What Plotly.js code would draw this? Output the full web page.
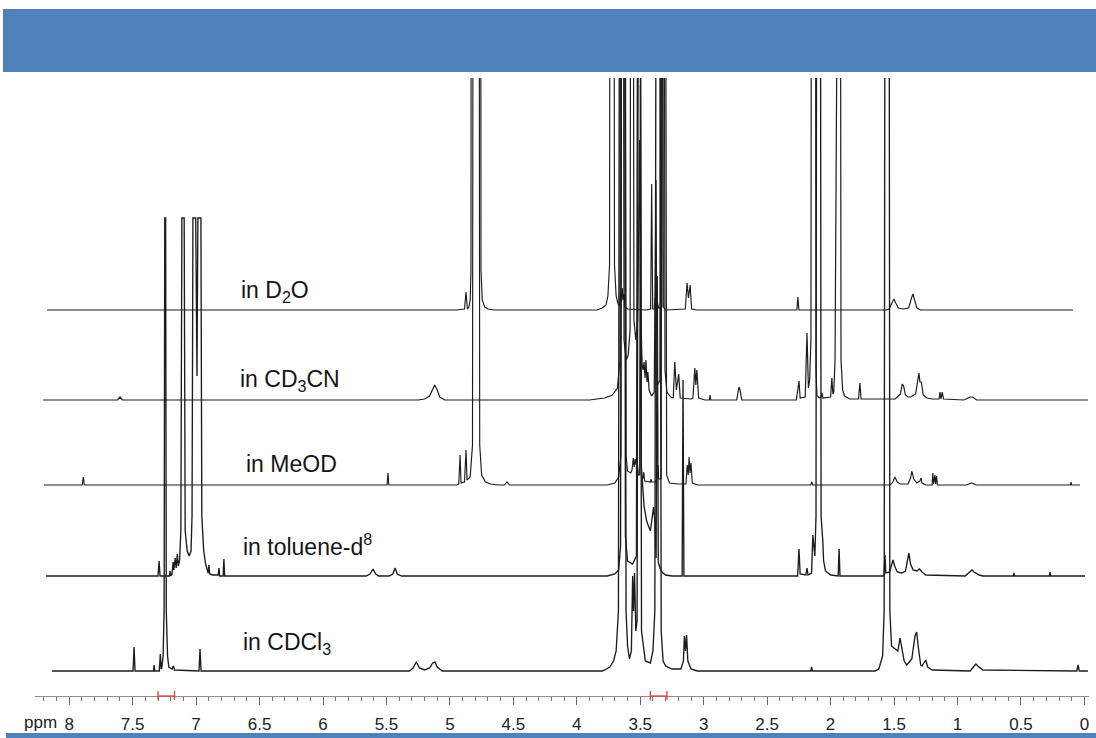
<!DOCTYPE html>
<html>
<head>
<meta charset="utf-8">
<script src="https://cdn.plot.ly/plotly-3.0.1.min.js"></script>
<style>html,body{margin:0;padding:0;background:#fff;}#chart{width:1096px;height:738px;}</style>
</head>
<body>
<div id="chart"></div>
<script>
// ---- axis ticks ----
const ppmTicks = [8,7.5,7,6.5,6,5.5,5,4.5,4,3.5,3,2.5,2,1.5,1,0.5,0];
const tickLabels = ['8','7.5','7','6.5','6','5.5','5','4.5','4','3.5','3','2.5','2','1.5','1','0.5','0'];

// ---- solvents (top to bottom) ----
const solventLabels = ['in D<sub>2</sub>O','in CD<sub>3</sub>CN','in MeOD','in toluene-d<sup>8</sup>','in CDCl<sub>3</sub>'];

// ---- spectra: [ppm, intensity above own baseline] (tall peaks run off scale) ----
const d2oSpectrum = [
[8.175,0],[4.95,0],[4.885,1],[4.873,18],[4.862,1],[4.85,3],[4.84,10],[4.834,40],[4.830,900],[4.760,900],[4.755,40],[4.745,10],[4.725,3],[4.70,1],[4.65,0],
[3.84,0],[3.80,2],[3.77,5],[3.755,14],[3.742,45],[3.734,900],[3.711,900],[3.703,45],[3.69,14],[3.675,6],[3.662,4],[3.655,18],[3.648,8],[3.642,22],[3.635,10],[3.628,16],[3.62,3],[3.60,1],[3.45,0],
[3.418,1],[3.410,126],[3.402,1],[3.39,1],[3.383,12],[3.376,3],[3.37,10],[3.355,2],[3.33,3],[3.324,900],[3.318,3],[3.30,0],
[3.145,1],[3.131,27],[3.12,12],[3.107,25],[3.095,1],[3.05,0],
[2.266,0],[2.258,13],[2.250,0],
[1.56,0],[1.54,1],[1.515,7],[1.501,11],[1.487,7],[1.465,2],[1.43,1],[1.385,2],[1.365,11],[1.351,16],[1.338,10],[1.32,2],[1.29,0],[0.09,0]
];
const cd3cnSpectrum = [
[8.206,0],[7.62,0],[7.60,3],[7.58,0],[5.25,0],[5.20,1],[5.16,4],[5.14,10],[5.12,15],[5.10,10],[5.08,3],[5.04,0],
[3.90,0],[3.78,2],[3.72,5],[3.68,12],[3.66,40],[3.652,900],[3.636,900],[3.628,60],[3.61,40],[3.595,45],[3.58,70],[3.572,900],[3.558,900],[3.55,80],[3.535,60],[3.52,80],[3.505,260],[3.497,90],[3.485,35],[3.478,30],[3.470,38],[3.462,22],[3.455,40],[3.447,18],[3.44,28],[3.43,10],[3.41,4],[3.39,8],[3.376,220],[3.368,14],[3.345,20],[3.335,900],[3.315,900],[3.305,30],[3.29,8],[3.26,3],
[3.24,2],[3.228,38],[3.215,10],[3.197,26],[3.185,2],[3.10,1],[3.085,2],[3.07,32],[3.062,15],[3.054,30],[3.04,2],[2.99,0],[2.956,0],[2.95,5],[2.944,0],[2.74,0],[2.728,10],[2.722,13],[2.714,10],[2.70,0],
[2.27,0],[2.249,19],[2.24,2],[2.20,3],[2.186,67],[2.175,12],[2.165,20],[2.155,60],[2.148,900],[2.122,900],[2.115,30],[2.108,5],[2.09,2],[2.075,3],[2.068,7],[2.06,2],[2.0,3],[1.99,22],[1.982,6],[1.975,8],[1.965,40],[1.958,900],[1.926,900],[1.918,40],[1.905,10],[1.89,4],[1.85,1],[1.78,1],[1.769,17],[1.76,1],
[1.49,1],[1.45,6],[1.435,16],[1.425,14],[1.41,5],[1.39,3],[1.37,3],[1.33,6],[1.312,24],[1.304,27],[1.296,18],[1.285,18],[1.27,5],[1.24,2],[1.20,1],[1.145,1],[1.138,8],[1.13,1],[1.12,8],[1.11,1],[0.95,0],[0.90,3],[0.88,3],[0.85,0],[-0.028,0]
];
const meodSpectrum = [
[8.199,0],[7.897,0],[7.889,8],[7.881,0],[5.495,0],[5.488,12],[5.481,0],[4.95,0],[4.93,1],[4.92,30],[4.912,2],[4.885,3],[4.873,35],[4.865,5],[4.84,8],[4.822,40],[4.815,900],[4.772,900],[4.765,40],[4.75,10],[4.72,3],[4.68,1],[4.62,0],[4.57,0],[4.55,3],[4.53,0],
[3.76,0],[3.70,2],[3.67,8],[3.652,30],[3.645,900],[3.62,900],[3.612,30],[3.60,14],[3.575,12],[3.565,15],[3.555,27],[3.548,18],[3.54,26],[3.532,20],[3.525,25],[3.515,10],[3.505,10],[3.499,400],[3.492,10],[3.480,6],[3.473,13],[3.465,4],[3.42,3],[3.415,6],[3.41,3],[3.38,3],[3.365,8],[3.36,20],[3.355,6],[3.335,6],[3.326,900],[3.304,900],[3.292,10],[3.27,2],[3.2,1],
[3.14,1],[3.13,20],[3.122,10],[3.115,28],[3.108,12],[3.10,22],[3.09,2],[3.05,0],[2.156,0],[2.148,3],[2.14,0],[1.53,0],[1.51,3],[1.493,8],[1.475,3],[1.45,1],[1.39,1],[1.37,7],[1.359,14],[1.345,6],[1.32,2],[1.296,4],[1.288,7],[1.28,2],[1.25,0],[1.20,0],[1.194,12],[1.188,1],[1.178,10],[1.172,1],[1.165,9],[1.158,0],[0.93,0],[0.89,2],[0.85,0],[0.11,0],[0.105,3],[0.10,0],[0.035,0]
];
const tolueneSpectrum = [
[8.183,0],[7.30,0],[7.292,15],[7.284,0],[7.21,0],[7.205,5],[7.198,0],[7.19,2],[7.181,14],[7.175,6],[7.165,18],[7.157,8],[7.148,22],[7.14,10],[7.13,16],[7.12,45],[7.112,358],[7.094,358],[7.086,45],[7.07,25],[7.055,20],[7.04,25],[7.032,60],[7.025,358],[7.003,358],[6.993,200],[6.986,358],[6.962,358],[6.955,60],[6.94,25],[6.925,12],[6.91,5],[6.905,3],[6.899,11],[6.893,2],[6.87,1],[6.826,1],[6.82,8],[6.814,0],[6.787,0],[6.781,17],[6.775,0],
[5.66,0],[5.63,2],[5.606,7],[5.585,2],[5.56,0],[5.48,0],[5.45,2],[5.432,8],[5.415,2],[5.38,0],
[3.76,0],[3.70,2],[3.67,6],[3.655,30],[3.645,900],[3.625,900],[3.617,40],[3.60,15],[3.56,12],[3.53,20],[3.517,900],[3.502,900],[3.492,110],[3.47,70],[3.45,55],[3.42,45],[3.405,60],[3.395,69],[3.385,55],[3.375,18],[3.366,300],[3.358,14],[3.345,8],[3.33,4],[3.30,1],[3.25,0],[3.17,0],[3.163,196],[3.156,0],
[2.26,0],[2.249,27],[2.24,2],[2.195,1],[2.186,8],[2.178,1],[2.15,3],[2.14,41],[2.13,30],[2.124,20],[2.115,60],[2.108,900],[2.082,900],[2.075,60],[2.062,36],[2.055,15],[2.04,5],[2.0,1],[1.94,0],[1.933,27],[1.926,0],[1.58,0],[1.571,21],[1.565,3],[1.535,4],[1.515,14],[1.508,16],[1.495,10],[1.475,4],[1.44,3],[1.41,5],[1.395,15],[1.383,23],[1.37,12],[1.35,6],[1.32,5],[1.30,7],[1.28,4],[1.25,1],[0.94,0],[0.91,3],[0.886,6],[0.87,4],[0.83,1],[0.80,0],[0.56,0],[0.555,3],[0.55,0],[0.276,0],[0.271,4],[0.266,0],[-0.005,0]
];
const cdcl3Spectrum = [
[8.135,0],[7.497,0],[7.489,24],[7.481,0],[7.336,0],[7.331,6],[7.326,0],[7.29,0],[7.282,17],[7.275,2],[7.27,4],[7.26,15],[7.252,60],[7.247,453],[7.240,453],[7.235,60],[7.225,15],[7.215,4],[7.19,2],[7.18,5],[7.17,1],[6.977,0],[6.969,22],[6.961,0],
[5.32,0],[5.29,3],[5.265,9],[5.24,3],[5.20,1],[5.16,3],[5.135,8],[5.118,9],[5.10,4],[5.06,0],
[3.80,0],[3.78,1],[3.74,4],[3.71,10],[3.69,20],[3.672,60],[3.662,900],[3.622,900],[3.612,60],[3.60,25],[3.585,12],[3.57,20],[3.56,95],[3.553,60],[3.545,98],[3.535,40],[3.525,50],[3.513,900],[3.503,900],[3.49,40],[3.46,10],[3.42,8],[3.40,20],[3.385,60],[3.373,900],[3.348,900],[3.335,40],[3.32,10],[3.30,5],[3.25,2],[3.18,2],[3.16,10],[3.152,35],[3.143,20],[3.135,36],[3.125,10],[3.10,2],[3.05,0],
[2.156,0],[2.15,4],[2.144,0],[1.65,0],[1.62,2],[1.59,15],[1.578,60],[1.57,900],[1.54,900],[1.533,60],[1.52,25],[1.47,20],[1.453,33],[1.44,22],[1.42,10],[1.40,6],[1.36,12],[1.335,35],[1.322,39],[1.31,25],[1.29,6],[1.28,5],[1.25,11],[1.235,4],[1.20,1],[0.90,0],[0.87,5],[0.855,7],[0.84,5],[0.80,1],[0.06,0],[0.05,6],[0.04,0],[-0.028,0]
];

// ---- integration brackets on the ppm axis [from, to] ----
const integralRanges = [[7.30,7.17],[3.42,3.29]];

// ---------------- drawing ----------------
const spectra = [d2oSpectrum, cd3cnSpectrum, meodSpectrum, tolueneSpectrum, cdcl3Spectrum];
const stackOffsets = [386, 296, 211, 120, 25];   // vertical stacking (layout)
const lineWidths = [1.15, 1.2, 1.15, 1.35, 1.35];
const labelPos = [[6.66,405],[6.668,316],[6.62,232],[6.645,151],[6.645,53]];

const traces = spectra.map((s,i)=>({
  type:'scatter', mode:'lines',
  x: s.map(p=>p[0]),
  y: s.map(p=>p[1] + stackOffsets[i]),
  line:{color:'#1c1c1c', width:lineWidths[i]},
  hoverinfo:'skip', showlegend:false
}));

const W = 1054, H = 618, L = 35, T = 78;
const px = v => (v - L)/W;
const py = v => (T + H - v)/H;

const shapes = [
  {type:'rect', xref:'paper', yref:'paper', x0:px(3), x1:px(1096), y0:py(72), y1:py(9), fillcolor:'#4F81BD', line:{width:0}, layer:'above'},
  {type:'rect', xref:'paper', yref:'paper', x0:px(6), x1:px(1096), y0:py(738), y1:py(733), fillcolor:'#4F81BD', line:{width:0}, layer:'above'}
];
integralRanges.forEach(r=>{
  shapes.push({type:'line', xref:'x', yref:'paper', x0:r[0], x1:r[1], y0:0, y1:0, line:{color:'#d24a3a', width:1.3}});
  shapes.push({type:'line', xref:'x', yref:'paper', x0:r[0], x1:r[0], y0:py(700), y1:py(691), line:{color:'#d24a3a', width:1.3}});
  shapes.push({type:'line', xref:'x', yref:'paper', x0:r[1], x1:r[1], y0:py(700), y1:py(691), line:{color:'#d24a3a', width:1.3}});
});

const annotations = solventLabels.map((t,i)=>({
  text:t, x:labelPos[i][0], y:labelPos[i][1], xref:'x', yref:'y',
  xanchor:'left', yanchor:'middle', showarrow:false,
  font:{family:'Liberation Sans, Arial, sans-serif', size:23, color:'#151515'}
}));
annotations.push({text:'ppm', xref:'paper', yref:'paper', x:px(22), y:py(722), xanchor:'left', yanchor:'middle', showarrow:false,
  font:{family:'Liberation Sans, Arial, sans-serif', size:17, color:'#222'}});

const layout = {
  width:1096, height:738,
  margin:{l:L, r:1096-L-W, t:T, b:738-T-H, pad:0},
  paper_bgcolor:'#ffffff', plot_bgcolor:'#ffffff', showlegend:false,
  xaxis:{
    range:[(1084.4-L)/126.9, (1084.4-L-W)/126.9], autorange:false,
    tickmode:'array', tickvals:ppmTicks, ticktext:tickLabels,
    ticks:'outside', ticklen:8, tickwidth:1, tickcolor:'#666',
    showline:true, linecolor:'#a88484', linewidth:1,
    showgrid:false, zeroline:false, fixedrange:true,
    ticklabelstandoff:5,
    tickfont:{family:'Liberation Sans, Arial, sans-serif', size:17, color:'#222'},
    minor:{tickmode:'linear', tick0:0, dtick:0.1, ticks:'outside', ticklen:4, tickcolor:'#777', tickwidth:1, showgrid:false}
  },
  yaxis:{range:[0,H], visible:false, fixedrange:true},
  shapes:shapes, annotations:annotations
};

Plotly.newPlot('chart', traces, layout, {displayModeBar:false, staticPlot:true});
</script>
</body>
</html>
